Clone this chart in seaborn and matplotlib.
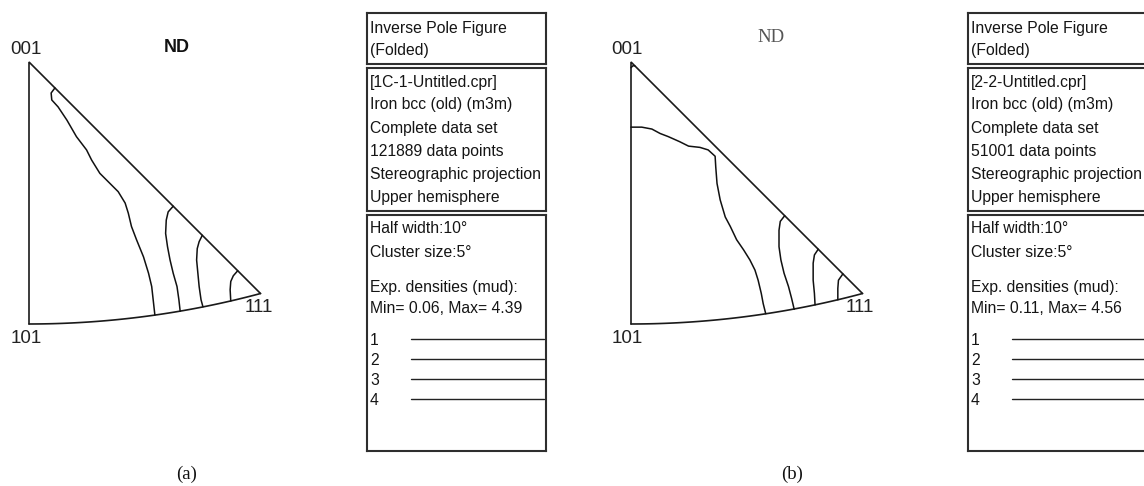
import numpy as np
import pandas as pd
import matplotlib
matplotlib.use("Agg")
import matplotlib.pyplot as plt
import seaborn as sns

sns.set_theme(style="white")
plt.rcParams["font.family"] = ["Liberation Sans", "DejaVu Sans"]

W, H, DPI = 1144, 486, 100
SCALE = 632.5          # pixels per stereographic unit

# ---- density contours, stereographic units (x: right of 001, y: down from 001) ----
a_c1 = [(0.041, 0.041), (0.035, 0.049), (0.036, 0.060), (0.046, 0.071), (0.060, 0.092),
        (0.075, 0.118), (0.091, 0.139), (0.099, 0.155), (0.112, 0.176), (0.128, 0.192),
        (0.141, 0.205), (0.152, 0.223), (0.157, 0.239), (0.162, 0.260), (0.170, 0.281),
        (0.181, 0.308), (0.189, 0.334), (0.194, 0.355), (0.197, 0.382), (0.199, 0.400)]
a_c2 = [(0.228, 0.228), (0.220, 0.237), (0.217, 0.250), (0.216, 0.271), (0.219, 0.292),
        (0.223, 0.313), (0.228, 0.334), (0.234, 0.355), (0.237, 0.376), (0.239, 0.394)]
a_c3 = [(0.274, 0.274), (0.269, 0.284), (0.266, 0.295), (0.265, 0.313), (0.267, 0.334),
        (0.269, 0.355), (0.272, 0.376), (0.275, 0.387)]
a_c4 = [(0.330, 0.330), (0.323, 0.338), (0.319, 0.347), (0.318, 0.360), (0.319, 0.378)]

b_c0 = [(0.000, 0.009), (0.003, 0.006), (0.006, 0.006)]
b_c1 = [(0.000, 0.103), (0.017, 0.103), (0.033, 0.106), (0.046, 0.113), (0.059, 0.118),
        (0.077, 0.126), (0.091, 0.133), (0.109, 0.135), (0.122, 0.139), (0.133, 0.149),
        (0.134, 0.166), (0.136, 0.192), (0.141, 0.218), (0.149, 0.245), (0.157, 0.260),
        (0.167, 0.281), (0.178, 0.297), (0.188, 0.313), (0.196, 0.329), (0.201, 0.345),
        (0.206, 0.366), (0.209, 0.382), (0.213, 0.398)]
b_c2 = [(0.243, 0.243), (0.236, 0.252), (0.234, 0.266), (0.234, 0.292), (0.237, 0.313),
        (0.242, 0.334), (0.249, 0.355), (0.254, 0.374), (0.258, 0.391)]
b_c3 = [(0.296, 0.296), (0.290, 0.305), (0.288, 0.318), (0.288, 0.345), (0.290, 0.366),
        (0.291, 0.384)]
b_c4 = [(0.335, 0.335), (0.328, 0.345), (0.327, 0.358), (0.327, 0.376)]

# ---- info panel text ----
header_lines = ["Inverse Pole Figure", "(Folded)"]
dataset_a = ["[1C-1-Untitled.cpr]", "Iron bcc (old) (m3m)", "Complete data set",
             "121889 data points", "Stereographic projection", "Upper hemisphere"]
dataset_b = ["[2-2-Untitled.cpr]", "Iron bcc (old) (m3m)", "Complete data set",
             "51001 data points", "Stereographic projection", "Upper hemisphere"]
settings_lines = ["Half width:10°", "Cluster size:5°"]
density_a = ["Exp. densities (mud):", "Min= 0.06, Max= 4.39"]
density_b = ["Exp. densities (mud):", "Min= 0.11, Max= 4.56"]
levels = [1, 2, 3, 4]
pole_labels = ["001", "101", "111"]
panel_tags = ["(a)", "(b)"]

fig = plt.figure(figsize=(W / DPI, H / DPI), dpi=DPI)
fig.patch.set_facecolor("white")


def px_rect(x0, y0, x1, y1):
    return [x0 / W, 1 - y1 / H, (x1 - x0) / W, (y1 - y0) / H]


def contour_frame(segments):
    rows = []
    for seg_id, (level, pts) in enumerate(segments):
        for x, y in pts:
            rows.append({"x": x, "y": y, "level": level, "seg": seg_id})
    return pd.DataFrame(rows)


def draw_ipf(origin, segments):
    ox, oy = origin
    x0, x1, y0, y1 = ox - 30, ox + 275, 20, 400
    ax = fig.add_axes(px_rect(x0, y0, x1, y1))
    # standard triangle boundary: 001-101 and 001-111 edges, 101-111 great-circle arc
    t = np.linspace(0, 1, 80)
    d = 1.0 / (np.sqrt(2 + t ** 2) + 1.0)
    p101 = (0.0, np.sqrt(2) - 1)
    p111 = (d[-1], d[-1])
    ax.plot([p101[0], 0, p111[0]], [p101[1], 0, p111[1]], color="#1a1a1a", lw=1.2,
            solid_joinstyle="miter")
    ax.plot(t * d, d, color="#1a1a1a", lw=1.2)
    df = contour_frame(segments)
    sns.lineplot(data=df, x="x", y="y", units="seg", estimator=None, sort=False,
                 color="#111111", linewidth=1.1, ax=ax, legend=False)
    ax.set_xlim((x0 - ox) / SCALE, (x1 - ox) / SCALE)
    ax.set_ylim((y1 - oy) / SCALE, (y0 - oy) / SCALE)
    ax.set_axis_off()
    return ax


draw_ipf((29, 62), [(1, a_c1), (2, a_c2), (3, a_c3), (4, a_c4)])
draw_ipf((631, 62), [(1, b_c0), (1, b_c1), (2, b_c2), (3, b_c3), (4, b_c4)])


def text_box(x0, y0, x1, y1, lines, rows, legend_rows=None, line_end=None):
    ax = fig.add_axes(px_rect(x0, y0, x1, y1))
    ax.set_xlim(0, x1 - x0)
    ax.set_ylim(y1 - y0, 0)
    ax.set_xticks([])
    ax.set_yticks([])
    ax.set_facecolor("white")
    for sp in ax.spines.values():
        sp.set_visible(True)
        sp.set_color("#2e2e2e")
        sp.set_linewidth(1.5)
    for txt, yy in zip(lines, rows):
        ax.text(3, yy - y0, txt, fontsize=11.3, color="#151515", va="center",
                ha="left", clip_on=True)
    if legend_rows is not None:
        for lev, yy in zip(levels, legend_rows):
            ax.text(3, yy - y0 + 1, str(lev), fontsize=11.3, color="#151515",
                    va="center", ha="left", clip_on=True)
            ax.plot([44, line_end - x0], [yy - y0, yy - y0], color="#222222", lw=1.0)
    return ax


legend_y = [339, 359, 379, 399]
for left, right, dataset, dens in [(367, 546, dataset_a, density_a),
                                   (968, 1160, dataset_b, density_b)]:
    text_box(left, 13, right, 64, header_lines, [28, 50])
    text_box(left, 68, right, 211, dataset, [82, 105, 128, 151, 174, 197])
    text_box(left, 215, right, 451, settings_lines + dens, [228, 252, 287, 308],
             legend_rows=legend_y, line_end=min(right - 2, 1150))

# ---- labels in pixel coordinates ----
ov = fig.add_axes([0, 0, 1, 1], zorder=10)
ov.set_xlim(0, W)
ov.set_ylim(H, 0)
ov.set_axis_off()
ov.patch.set_alpha(0)

lab_kw = dict(fontsize=13.5, color="#222222", ha="center", va="center")
for ox, lab_pos in [(0, [(26, 50), (26, 338), (259, 307)]),
                    (602, [(25, 50), (25, 338), (258, 307)])]:
    for lab, (lx, ly) in zip(pole_labels, lab_pos):
        ov.text(ox + lx, ly, lab, **lab_kw)

ov.text(177, 47, "ND", fontsize=13, fontweight="bold", color="#111111",
        ha="center", va="center")
ov.text(771, 38, "ND", fontsize=13.5, family="Liberation Serif", color="#555555",
        ha="center", va="center")
ov.text(187, 474, panel_tags[0], fontsize=13.5, family="Liberation Serif",
        color="#111111", ha="center", va="center")
ov.text(792, 474, panel_tags[1], fontsize=13.5, family="Liberation Serif",
        color="#111111", ha="center", va="center")

fig.savefig("out.png", dpi=DPI, facecolor="white")
